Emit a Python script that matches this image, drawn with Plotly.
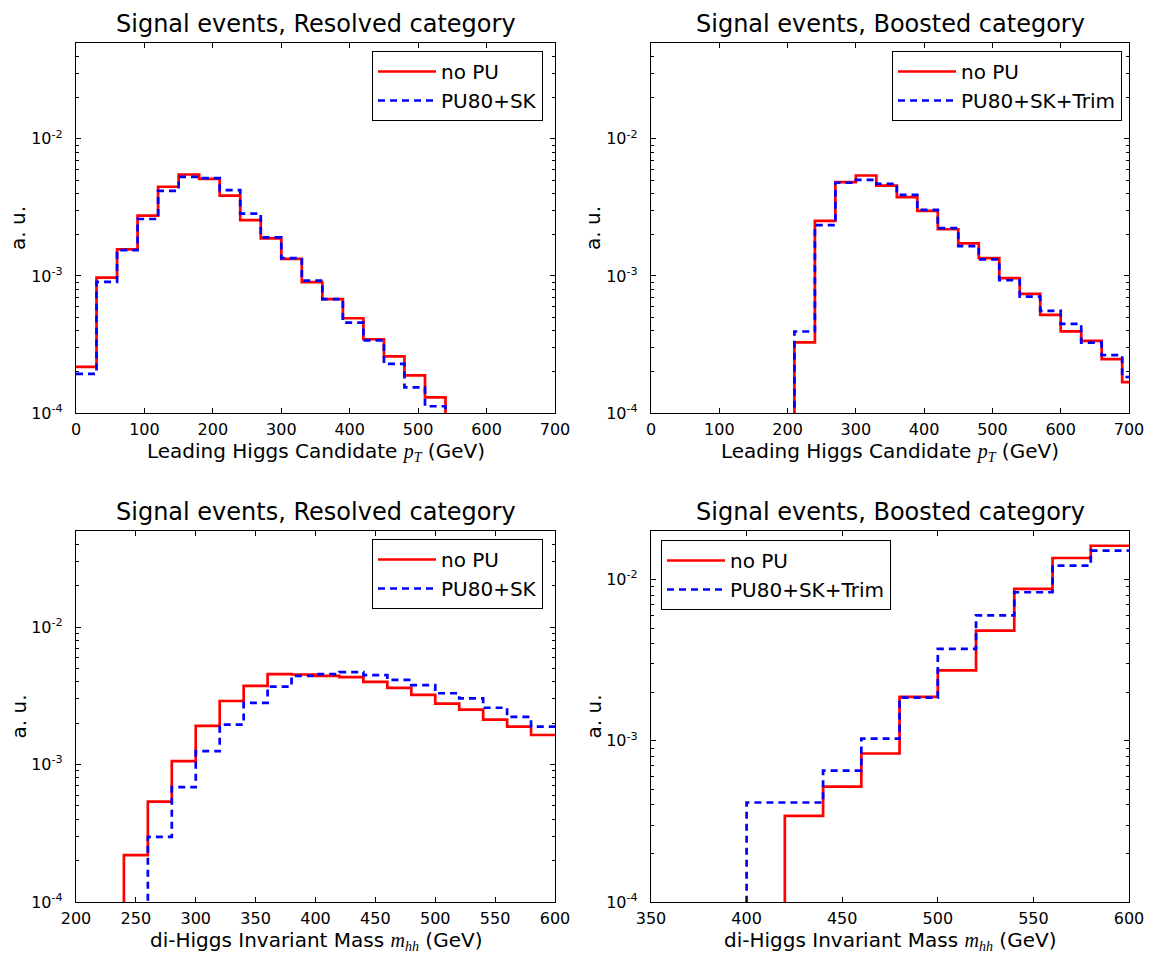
import math
import plotly.graph_objects as go

# ---------------------------------------------------------------------------
# Histogram contents (normalised, arbitrary units). Each list of lower bin
# edges goes with the bin contents of the two pile-up scenarios.
# ---------------------------------------------------------------------------

# Leading Higgs candidate pT, resolved category (30 GeV bins)
pt_res_lo = [0, 30, 60, 90, 120, 150, 180, 210, 240, 270, 300, 330, 360, 390,
             420, 450, 480, 510, 540]
pt_res_nopu = [2.17e-4, 9.7e-4, 1.56e-3, 2.75e-3, 4.47e-3, 5.49e-3, 5.1e-3,
               3.85e-3, 2.55e-3, 1.88e-3, 1.33e-3, 9.0e-4, 6.76e-4, 4.91e-4,
               3.45e-4, 2.59e-4, 1.88e-4, 1.30e-4, 0]
pt_res_pu = [1.93e-4, 9.04e-4, 1.54e-3, 2.60e-3, 4.17e-3, 5.28e-3, 5.17e-3,
             4.22e-3, 2.85e-3, 1.91e-3, 1.35e-3, 9.25e-4, 6.76e-4, 4.56e-4,
             3.39e-4, 2.28e-4, 1.54e-4, 1.12e-4, 0]
pt_res_width = 30

# Leading Higgs candidate pT, boosted category (30 GeV bins)
pt_bst_lo = [180, 210, 240, 270, 300, 330, 360, 390, 420, 450, 480, 510, 540,
             570, 600, 630, 660, 690]
pt_bst_nopu = [0, 3.28e-4, 2.52e-3, 4.83e-3, 5.40e-3, 4.56e-3, 3.75e-3,
               2.98e-3, 2.19e-3, 1.73e-3, 1.35e-3, 9.62e-4, 7.39e-4, 5.19e-4,
               3.94e-4, 3.36e-4, 2.47e-4, 1.68e-4]
pt_bst_pu = [0, 3.93e-4, 2.35e-3, 4.78e-3, 5.02e-3, 4.70e-3, 3.90e-3,
             3.03e-3, 2.23e-3, 1.65e-3, 1.32e-3, 9.30e-4, 7.06e-4, 5.55e-4,
             4.47e-4, 3.26e-4, 2.64e-4, 1.83e-4]
pt_bst_width = 30

# di-Higgs invariant mass, resolved category (20 GeV bins)
mhh_res_lo = [220, 240, 260, 280, 300, 320, 340, 360, 380, 400, 420, 440, 460,
              480, 500, 520, 540, 560, 580]
mhh_res_nopu = [0, 2.19e-4, 5.37e-4, 1.06e-3, 1.91e-3, 2.90e-3, 3.73e-3,
                4.54e-3, 4.52e-3, 4.42e-3, 4.32e-3, 3.99e-3, 3.61e-3, 3.21e-3,
                2.77e-3, 2.51e-3, 2.12e-3, 1.89e-3, 1.64e-3]
mhh_res_pu = [0, 0, 2.98e-4, 6.84e-4, 1.25e-3, 1.95e-3, 2.81e-3, 3.69e-3,
              4.42e-3, 4.54e-3, 4.70e-3, 4.47e-3, 4.13e-3, 3.78e-3, 3.30e-3,
              3.03e-3, 2.59e-3, 2.22e-3, 1.89e-3]
mhh_res_width = 20

# di-Higgs invariant mass, boosted category (20 GeV bins)
mhh_bst_lo = [380, 400, 420, 440, 460, 480, 500, 520, 540, 560, 580]
mhh_bst_nopu = [0, 0, 3.42e-4, 5.20e-4, 8.34e-4, 1.87e-3, 2.73e-3, 4.82e-3,
                8.75e-3, 1.36e-2, 1.62e-2]
mhh_bst_pu = [0, 4.14e-4, 4.14e-4, 6.52e-4, 1.03e-3, 1.85e-3, 3.71e-3,
              6.00e-3, 8.34e-3, 1.22e-2, 1.51e-2]
mhh_bst_width = 20

LABEL_NOPU = "no PU"
LABEL_SK = "PU80+SK"
LABEL_SKTRIM = "PU80+SK+Trim"

TITLE_RES = "Signal events, Resolved category"
TITLE_BST = "Signal events, Boosted category"
XLABEL_PT = ("Leading Higgs Candidate "
             "<span style='font-family:Liberation Serif'><i>p</i>"
             "<sub><i>T</i></sub></span> (GeV)")
XLABEL_MHH = ("di-Higgs Invariant Mass "
              "<span style='font-family:Liberation Serif'><i>m</i>"
              "<sub><i>hh</i></sub></span> (GeV)")
YLABEL = "a. u."

# ---------------------------------------------------------------------------
W, H = 1151, 954
FONT = "DejaVu Sans"
RED = "#ff0000"
BLUE = "#0000ff"
LOG_FLOOR = 1e-6  # empty bins are drawn below the visible range


def step_xy(lo, vals, width):
    """Outline of a step histogram (hv shape) from lower edges and contents."""
    xs = list(lo) + [lo[-1] + width]
    ys = [v if v > 0 else LOG_FLOOR for v in vals]
    ys = ys + [ys[-1]]
    return xs, ys


# pixel geometry of the four panels: (left, right, top, bottom)
panels = [
    (76, 555, 43, 413),
    (651, 1129, 43, 413),
    (76, 555, 531, 902),
    (651, 1129, 531, 902),
]

panel_data = [
    (pt_res_lo, pt_res_width, pt_res_nopu, pt_res_pu, LABEL_SK),
    (pt_bst_lo, pt_bst_width, pt_bst_nopu, pt_bst_pu, LABEL_SKTRIM),
    (mhh_res_lo, mhh_res_width, mhh_res_nopu, mhh_res_pu, LABEL_SK),
    (mhh_bst_lo, mhh_bst_width, mhh_bst_nopu, mhh_bst_pu, LABEL_SKTRIM),
]

x_ranges = [(0, 700), (0, 700), (200, 600), (350, 600)]
x_dticks = [100, 100, 50, 50]
y_tops = [0.05, 0.05, 0.05, 0.02]
titles = [TITLE_RES, TITLE_BST, TITLE_RES, TITLE_BST]
xlabels = [XLABEL_PT, XLABEL_PT, XLABEL_MHH, XLABEL_MHH]
# legend placement: (anchor side, pixel x of that side, pixel top)
legend_pos = [("right", 543, 51), ("right", 1122, 51),
              ("right", 543, 539), ("left", 661, 540)]

fig = go.Figure()
layout = dict(
    width=W, height=H, autosize=False,
    margin=dict(l=0, r=0, t=0, b=0, autoexpand=False),
    paper_bgcolor="white", plot_bgcolor="white",
    font=dict(family=FONT, color="black", size=16),
    annotations=[],
)

major_y = [1e-4, 1e-3, 1e-2]
major_y_text = ["10<sup>-4</sup>", "10<sup>-3</sup>", "10<sup>-2</sup>"]
minor_y = [k * 10.0 ** e for e in (-4, -3, -2) for k in range(2, 10)]

for i, ((l, r, t, b), (lo, wd, v0, v1, lab1)) in enumerate(zip(panels, panel_data)):
    n = "" if i == 0 else str(i + 1)
    xa, ya = "x" + n, "y" + n
    leg = "legend" + n

    x0, y0 = step_xy(lo, v0, wd)
    x1, y1 = step_xy(lo, v1, wd)
    fig.add_trace(go.Scatter(x=x0, y=y0, mode="lines", line_shape="hv",
                             line=dict(color=RED, width=2.7),
                             name=LABEL_NOPU, xaxis=xa, yaxis=ya, legend=leg))
    fig.add_trace(go.Scatter(x=x1, y=y1, mode="lines", line_shape="hv",
                             line=dict(color=BLUE, width=2.7, dash="7px,5px"),
                             name=lab1, xaxis=xa, yaxis=ya, legend=leg))

    xdom = [l / W, r / W]
    ydom = [1 - b / H, 1 - t / H]
    common = dict(showline=True, linecolor="black", linewidth=1.2,
                  mirror="ticks", ticks="inside", tickcolor="black",
                  tickwidth=1, showgrid=False, zeroline=False,
                  automargin=False,
                  tickfont=dict(size=16, family=FONT, color="black"))
    layout["xaxis" + n] = dict(
        domain=xdom, anchor=ya, range=list(x_ranges[i]),
        tickmode="linear", tick0=0, dtick=x_dticks[i], ticklen=5,
        ticklabelstandoff=2, **common)
    layout["yaxis" + n] = dict(
        domain=ydom, anchor=xa, type="log",
        range=[-4, math.log10(y_tops[i])],
        tickmode="array", tickvals=major_y, ticktext=major_y_text, ticklen=5,
        ticklabelstandoff=9,
        minor=dict(tickmode="array", tickvals=minor_y, ticks="inside",
                   ticklen=3, tickcolor="black", tickwidth=1, showgrid=False),
        **common)

    side, px, pt = legend_pos[i]
    layout[leg] = dict(x=px / W, xanchor=side, y=1 - pt / H, yanchor="top",
                       xref="paper", yref="paper",
                       bgcolor="white", bordercolor="black", borderwidth=1,
                       itemwidth=58,
                       font=dict(size=20, family=FONT, color="black"))

    cx = (l + r) / 2
    layout["annotations"] += [
        dict(text=titles[i], x=cx / W, y=1 - (t - 19) / H, xref="paper",
             yref="paper", xanchor="center", yanchor="middle",
             showarrow=False, font=dict(size=24, family=FONT)),
        dict(text=xlabels[i], x=cx / W, y=1 - (b + 39) / H, xref="paper",
             yref="paper", xanchor="center", yanchor="middle",
             showarrow=False, font=dict(size=20, family=FONT)),
        dict(text=YLABEL, x=(l - 58) / W, y=1 - ((t + b) / 2) / H,
             xref="paper", yref="paper", xanchor="center", yanchor="middle",
             textangle=-90, showarrow=False, font=dict(size=20, family=FONT)),
    ]

fig.update_layout(**layout)
fig.write_html("out.html")
